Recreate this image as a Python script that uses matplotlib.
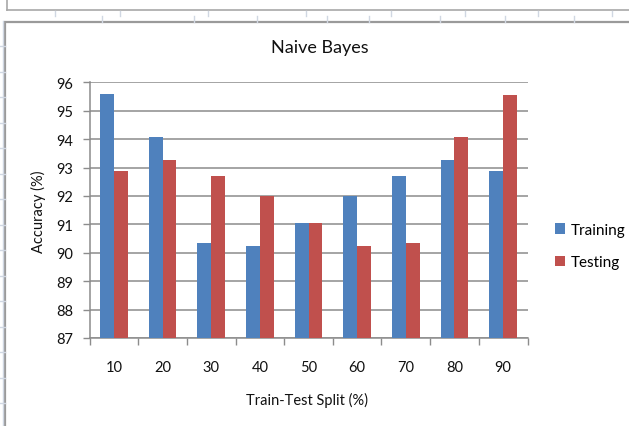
import numpy as np
import matplotlib
matplotlib.use("Agg")
from matplotlib import pyplot as plt
from matplotlib.lines import Line2D
from matplotlib.patches import Rectangle

splits = ["10", "20", "30", "40", "50", "60", "70", "80", "90"]
training = [95.58, 94.06, 90.33, 90.24, 91.04, 92.0, 92.71, 93.25, 92.89]
testing = [92.89, 93.25, 92.71, 92.0, 91.04, 90.25, 90.33, 94.06, 95.56]
y_ticks = [87, 88, 89, 90, 91, 92, 93, 94, 95, 96]

blue = "#4F81BD"
red = "#C0504D"
grid_grey = "#8C8C8C"

plt.rcParams['font.family'] = ['Lato', 'DejaVu Sans']

W, H = 629, 427
fig = plt.figure(figsize=(W / 100, H / 100), dpi=100)


def px(x, y):
    # pixel coords (top-left origin) -> figure fraction
    return x / W, 1 - y / H


def fig_line(x0, y0, x1, y1, color, lw=1.0):
    (a, b), (c, d) = px(x0, y0), px(x1, y1)
    fig.add_artist(Line2D([a, c], [b, d], color=color, lw=lw,
                          transform=fig.transFigure))


# worksheet bits around the chart object
fig_line(7, 0, 7, 11, "#A8A8A8", 1.2)
fig_line(7, 11, W, 11, "#A8A8A8", 1.2)
for x in [55, 120, 208, 306, 391, 465, 538, 612]:
    fig_line(x, 12, x, 17, "#D0D7E2", 1)
for x in [102, 194, 257, 327, 369, 440, 505, 574]:
    fig_line(x, 17, x, 23, "#D0D7E2", 1)
fig_line(3, 22, 3, H, "#D0D7E2", 1)
for y in np.arange(47, H, 25.5):
    fig_line(0, y, 5, y, "#D0D7E2", 1)

# chart area frame
fig.add_artist(Rectangle(px(5, H + 5), (W + 5 - 5) / W, (H + 5 - 23) / H,
                         transform=fig.transFigure, facecolor="white",
                         edgecolor="#9A9A9A", lw=1.6, zorder=0))

left, right, top, bottom = 89.5, 527.5, 83.3, 339.0
ax = fig.add_axes([left / W, 1 - bottom / H, (right - left) / W, (bottom - top) / H])
ax.set_facecolor("none")

x = np.arange(len(splits))
w = 1 / 3.5
ax.bar(x - w / 2, np.array(training) - 87, w, bottom=87, color=blue, label="Training", zorder=3)
ax.bar(x + w / 2, np.array(testing) - 87, w, bottom=87, color=red, label="Testing", zorder=3)

ax.set_xlim(-0.5, len(splits) - 0.5)
ax.set_ylim(87, 96)
ax.set_yticks(y_ticks)
ax.set_yticklabels([str(v) for v in y_ticks], fontsize=10.5, color="#111111")
ax.yaxis.grid(True, color=grid_grey, lw=1.1, zorder=0)
ax.set_axisbelow(True)

# category labels centred, tick marks on the boundaries
ax.set_xticks(np.arange(-0.5, len(splits), 1))
ax.set_xticklabels([])
ax.set_xticks(x, minor=True)
ax.set_xticklabels(splits, minor=True, fontsize=10.5, color="#111111")
ax.tick_params(axis="x", which="minor", length=0, pad=16)
ax.tick_params(axis="x", which="major", length=5, color=grid_grey, width=1)
ax.tick_params(axis="y", length=5, color=grid_grey, width=1, pad=7)

for s in ["top", "right"]:
    ax.spines[s].set_visible(False)
for s in ["left", "bottom"]:
    ax.spines[s].set_color(grid_grey)
    ax.spines[s].set_linewidth(1.1)

fig.text(320 / W, 1 - 48 / H, "Naive Bayes", ha="center", va="center",
         fontsize=13, color="#111111")
fig.text(307 / W, 1 - 400 / H, "Train-Test Split (%)", ha="center", va="center",
         fontsize=10.5, color="#111111")
fig.text(38 / W, 1 - 212 / H, "Accuracy (%)", ha="center", va="center",
         rotation=90, fontsize=10.5, color="#111111")

fig.legend(loc="center left", bbox_to_anchor=(541 / W, 1 - 247 / H),
           frameon=False, fontsize=11, handlelength=0.65, handleheight=0.65,
           handletextpad=0.4, labelspacing=1.2)

fig.savefig("out.png", dpi=100)
